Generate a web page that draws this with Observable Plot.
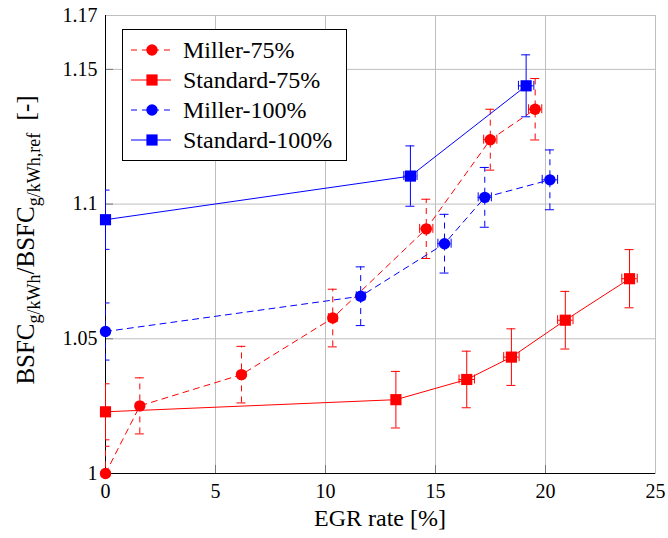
<!DOCTYPE html>
<html><head><meta charset="utf-8">
<script src="https://cdn.jsdelivr.net/npm/d3@7"></script>
<script src="https://cdn.jsdelivr.net/npm/@observablehq/plot@0.6"></script>
<style>
body{margin:0;background:#fff;}
#chart{width:668px;height:538px;}
</style>
</head><body><div id="chart"></div>
<script>
// ---- data ----
const seriesNames = ["Miller-75%", "Standard-75%", "Miller-100%", "Standard-100%"];
const seriesColors = ["#ff0000", "#ff0000", "#0000ff", "#0000ff"];
const seriesDashed = [true, false, true, false];
const seriesSymbols = ["circle", "square", "circle", "square"];

const miller75X  = [0, 1.56, 6.18, 10.33, 14.58, 17.49, 19.53];
const miller75Y  = [1.000, 1.0251, 1.0367, 1.0577, 1.0908, 1.1239, 1.1352];
const miller75Ey = [0.0101, 0.0104, 0.0105, 0.0107, 0.0110, 0.0113, 0.0114];
const miller75Ex = [0, 0, 0, 0.2, 0.3, 0.3, 0.3];

const standard75X  = [0, 13.2, 16.42, 18.45, 20.9, 23.82];
const standard75Y  = [1.0229, 1.0274, 1.0349, 1.0432, 1.0569, 1.0723];
const standard75Ey = [0.0104, 0.0105, 0.0105, 0.0105, 0.0107, 0.0108];
const standard75Ex = [0, 0.2, 0.35, 0.35, 0.35, 0.35];

const miller100X  = [0, 11.6, 15.41, 17.24, 20.2];
const miller100Y  = [1.0527, 1.0658, 1.0853, 1.1025, 1.1090];
const miller100Ey = [0.0106, 0.0109, 0.0109, 0.0111, 0.0111];
const miller100Ex = [0, 0.2, 0.3, 0.3, 0.35];

const standard100X  = [0, 13.86, 19.12];
const standard100Y  = [1.0942, 1.1104, 1.1439];
const standard100Ey = [0.0110, 0.0112, 0.0115];
const standard100Ex = [0, 0.3, 0.35];

const xTicks = [0, 5, 10, 15, 20, 25];
const yTicks = [1, 1.05, 1.1, 1.15, 1.17];
const xGrid = [5, 10, 15, 20];
const yGrid = [1.05, 1.1, 1.15];
const xDomain = [0, 25];
const yDomain = [1, 1.17];
const xLabel = "EGR rate [%]";

function pts(xs, ys, eys, exs) { return xs.map((x, i) => ({x, y: ys[i], ey: eys[i], ex: exs[i]})); }
const seriesData = [
  pts(miller75X, miller75Y, miller75Ey, miller75Ex),
  pts(standard75X, standard75Y, standard75Ey, standard75Ex),
  pts(miller100X, miller100Y, miller100Ey, miller100Ex),
  pts(standard100X, standard100Y, standard100Ey, standard100Ex)
];
const series = seriesNames.map((name, i) => ({name, color: seriesColors[i], dashed: seriesDashed[i], symbol: seriesSymbols[i], data: seriesData[i]}));

const DASH = "6,5";
const CAP = 4.5;
function seriesMarks(s) {
  const dash = s.dashed ? DASH : null;
  const d = s.data;
  const dx = d.filter(p => p.ex > 0);
  const r = s.symbol === "square" ? 6.3 : 5.7;
  return [
    Plot.line(d, {x: "x", y: "y", stroke: s.color, strokeWidth: 1, strokeDasharray: dash}),
    Plot.ruleX(d, {x: "x", y1: p => p.y - p.ey, y2: p => p.y + p.ey, stroke: s.color, strokeWidth: 1, strokeDasharray: dash, clip: true}),
    Plot.ruleY(d, {y: p => p.y + p.ey, x1: "x", x2: "x", insetLeft: -CAP, insetRight: -CAP, stroke: s.color, strokeWidth: 1, clip: true}),
    Plot.ruleY(d, {y: p => p.y - p.ey, x1: "x", x2: "x", insetLeft: -CAP, insetRight: -CAP, stroke: s.color, strokeWidth: 1, clip: true}),
    Plot.ruleY(dx, {y: "y", x1: p => p.x - p.ex, x2: p => p.x + p.ex, stroke: s.color, strokeWidth: 1}),
    Plot.ruleX(dx, {x: p => p.x - p.ex, y1: "y", y2: "y", insetTop: -CAP, insetBottom: -CAP, stroke: s.color, strokeWidth: 1}),
    Plot.ruleX(dx, {x: p => p.x + p.ex, y1: "y", y2: "y", insetTop: -CAP, insetBottom: -CAP, stroke: s.color, strokeWidth: 1}),
    Plot.dot(d, {x: "x", y: "y", symbol: s.symbol, r, fill: s.color, stroke: "none"})
  ];
}

const font = "\"Times New Roman\", Times, \"Liberation Serif\", \"DejaVu Serif\", \"Noto Serif\", FreeSerif, serif";

const plot = Plot.plot({
  width: 668, height: 538,
  marginLeft: 105, marginRight: 13, marginTop: 15, marginBottom: 65,
  style: {fontFamily: font, fontSize: "20px", color: "black", background: "white"},
  x: {domain: xDomain},
  y: {domain: yDomain},
  marks: [
    Plot.gridX(xGrid, {stroke: "#bfbfbf", strokeOpacity: 1}),
    Plot.gridY(yGrid, {stroke: "#bfbfbf", strokeOpacity: 1}),
    Plot.frame({stroke: "#bfbfbf"}),
    Plot.ruleX(xGrid, {x: d => d, y1: () => yDomain[0], y2: () => yDomain[0], insetTop: -8, insetBottom: 0, stroke: "#777"}),
    Plot.ruleY(yGrid, {y: d => d, x1: () => xDomain[0], x2: () => xDomain[0], insetLeft: 0, insetRight: -8, stroke: "#777"}),
    Plot.ruleY([yDomain[0]], {stroke: "black"}),
    Plot.ruleX([xDomain[0]], {stroke: "black"}),
    Plot.axisX({ticks: xTicks, tickSize: 0, tickPadding: 10, tickFormat: d => String(d), label: null, fontFamily: font, fontSize: 20}),
    Plot.axisY({ticks: yTicks, tickSize: 0, tickPadding: 8, tickFormat: d => String(d), label: null, fontFamily: font, fontSize: 20}),
    ...series.flatMap(seriesMarks)
  ]
});

const svg = d3.select(plot);

// x label
svg.append("text").attr("x", 380).attr("y", 526).attr("text-anchor", "middle")
  .attr("font-family", font).attr("font-size", 24).attr("fill", "black").text(xLabel);

// y label with subscripts
const yl = svg.append("text").attr("transform", "translate(34,240) rotate(-90)").attr("text-anchor", "middle")
  .attr("font-family", font).attr("font-size", 25).attr("fill", "black");
yl.append("tspan").text("BSFC");
yl.append("tspan").attr("dy", 6).attr("font-size", 18).text("g/kWh");
yl.append("tspan").attr("dy", -6).text("/BSFC");
yl.append("tspan").attr("dy", 6).attr("font-size", 18).text("g/kWh,ref");
yl.append("tspan").attr("dy", -6).text("\u2002[-]");

// legend
const lg = svg.append("g");
lg.append("rect").attr("x", 122.5).attr("y", 29.5).attr("width", 224).attr("height", 131)
  .attr("fill", "white").attr("stroke", "black").attr("stroke-width", 1);
series.forEach((s, i) => {
  const cy = 50 + i * 30;
  lg.append("line").attr("x1", 131).attr("x2", 171).attr("y1", cy).attr("y2", cy)
    .attr("stroke", s.color).attr("stroke-width", 1).attr("stroke-dasharray", s.dashed ? DASH : null);
  if (s.symbol === "circle") {
    lg.append("circle").attr("cx", 152).attr("cy", cy).attr("r", 5.7).attr("fill", s.color);
  } else {
    lg.append("rect").attr("x", 152 - 5.6).attr("y", cy - 5.6).attr("width", 11.2).attr("height", 11.2).attr("fill", s.color);
  }
  lg.append("text").attr("x", 183).attr("y", cy).attr("dy", "0.34em").attr("text-anchor", "start")
    .attr("font-family", font).attr("font-size", 24).attr("fill", "black").text(s.name);
});

document.getElementById("chart").appendChild(plot);
</script>
</body></html>
